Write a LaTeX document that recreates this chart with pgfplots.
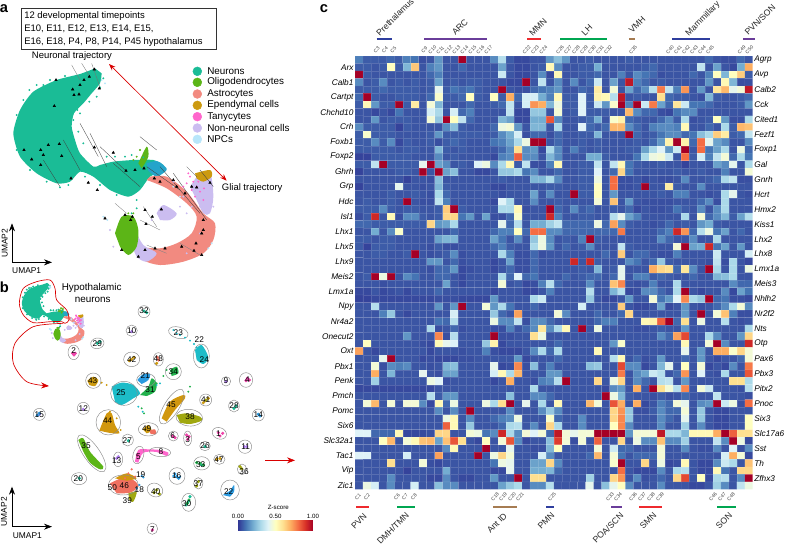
\documentclass[border=0pt]{standalone}
\usepackage{pgfplots}
\pgfplotsset{compat=1.18}
\usepackage{fontspec}
\setmainfont{Liberation Sans}
\usetikzlibrary{arrows.meta}
\definecolor{cNeu}{HTML}{1ABC96}
\definecolor{cOli}{HTML}{5CB517}
\definecolor{cAst}{HTML}{F28A80}
\definecolor{cEpe}{HTML}{CC9A10}
\definecolor{cTan}{HTML}{FF66CC}
\definecolor{cNon}{HTML}{CBBDF0}
\definecolor{cNpc}{HTML}{B8E6FA}
\definecolor{cCya}{HTML}{1DBCC8}
\definecolor{cBlu}{HTML}{2A9AE0}
\definecolor{cGrn}{HTML}{22B14C}
\definecolor{cOlv}{HTML}{A0A810}
\definecolor{cSal}{HTML}{F07060}
\definecolor{cPnk}{HTML}{EE44AA}
\definecolor{cVio}{HTML}{B080EE}
\definecolor{barNavy}{HTML}{2F3E9E}
\definecolor{barPurp}{HTML}{6A3D9A}
\definecolor{barRed}{HTML}{EE2A2E}
\definecolor{barGrn}{HTML}{00A651}
\definecolor{barBrn}{HTML}{A67C52}
\pgfplotsset{
  page/.style={at={(0,0)}, anchor=south west, width=589.5pt, height=408pt,
    scale only axis, hide axis, y dir=reverse, clip=false},
  rdyl/.style={colormap={rdylbu}{rgb255(0)=(49,54,149) rgb255(1)=(69,117,180)
    rgb255(2)=(116,173,209) rgb255(3)=(171,217,233) rgb255(4)=(224,243,248)
    rgb255(5)=(255,255,191) rgb255(6)=(254,224,144) rgb255(7)=(253,174,97)
    rgb255(8)=(244,109,67) rgb255(9)=(215,48,39) rgb255(10)=(165,0,38)}},
  txt/.style={only marks, mark size=0pt, nodes near coords, point meta=explicit symbolic,
    nodes near coords style={anchor=center, inner sep=0pt, #1}},
}
\tikzset{ctr/.style={draw=black!45, line width=0.35pt}}
\newcommand\cl[5]{\draw[ctr, rotate around={#5:(axis cs:#1,#2)}] (axis cs:#1,#2) ellipse [x radius=#3*0.25pt, y radius=#4*0.25pt];}
% clouds of panel a, also drawn small in panel b
\newcommand\clouds{
  \addplot[fill=cNeu, draw=none, smooth, tension=0.4] coordinates {(285,205)(240,222)(170,240)(100,275)(60,330)(40,400)(60,470)(110,520)(170,550)(210,545)(240,515)(280,530)(330,570)(385,590)(420,570)(450,530)(490,510)(490,495)(460,480)(400,480)(340,485)(300,495)(280,500)(240,460)(225,420)(215,380)(222,340)(250,310)(275,280)(300,250)(305,220)} --cycle;
  \addplot[fill=cBlu!70!cNeu, draw=none, smooth] coordinates {(440,490)(470,483)(490,495)(500,510)(470,530)(445,512)} --cycle;
  \addplot[fill=cAst, draw=none, smooth] coordinates {(450,530)(500,530)(560,575)(610,640)(645,670)(640,720)(610,760)(550,785)(480,795)(430,780)(420,745)(480,745)(530,730)(575,700)(590,650)(560,610)(500,565)(440,540)} --cycle;
  \addplot[fill=cNon, draw=none, smooth] coordinates {(590,530)(630,520)(640,590)(630,640)(610,640)(590,600)(570,560)} --cycle;
  \addplot[fill=cNon, draw=none, smooth] coordinates {(470,640)(490,615)(530,640)(510,660)(480,660)} --cycle;
  \addplot[fill=cNon, draw=none, smooth] coordinates {(405,690)(430,735)(470,760)(440,785)(410,770)(395,730)} --cycle;
  \addplot[fill=cOli, draw=none, smooth] coordinates {(345,700)(365,650)(400,650)(415,690)(410,740)(385,765)(360,740)} --cycle;
  \addplot[fill=cOli, draw=none, smooth] coordinates {(415,490)(440,440)(445,470)(425,505)} --cycle;
  \addplot[fill=cEpe, draw=none, smooth] coordinates {(585,520)(630,510)(635,530)(610,545)(590,535)} --cycle;
  \addplot[only marks, mark size=0.5pt, cTan] coordinates {(570,530)(580,545)(590,560)(575,570)(600,575)(560,550)(612,565)(595,545)(585,590)(565,520)(550,560)(610,600)};
  \addplot[only marks, mark size=0.5pt, cNeu] coordinates {(310,235)(300,262)(290,290)(268,305)(240,340)(395,465)(430,472)(410,625)(395,640)(110,255)(88,270)(205,555)(180,562)(410,600)(130,255)(150,240)(195,228)(70,300)(50,345)(232,330)(220,360)(235,395)(250,430)(320,470)(375,470)(345,470)(350,585)(300,555)(255,530)(140,545)(90,510)(50,450)};
  \addplot[only marks, mark size=0.5pt, cNpc] coordinates {(625,745)(635,730)(310,650)(322,660)(540,590)(520,560)(305,240)(315,250)};
  \addplot[only marks, mark size=0.5pt, cNon] coordinates {(560,640)(600,620)(455,660)(540,620)(640,620)(330,690)(340,740)(520,545)(550,590)(575,620)(600,700)(560,760)};
  \addplot[only marks, mark size=0.5pt, cOli] coordinates {(400,640)(385,640)(410,470)(400,480)(420,450)};
}
\begin{document}
\begin{tikzpicture}
\useasboundingbox (0,0) rectangle (589.5pt,408pt);
% panel a, in units of a third of a pixel
\begin{axis}[page, xmin=0, xmax=2358, ymin=0, ymax=1632]
\clouds
% velocity streaks
\addplot[black!55, line width=0.25pt] coordinates {(215,195)(240,240)};
\addplot[black!55, line width=0.25pt] coordinates {(245,190)(270,230)};
\addplot[black!55, line width=0.25pt] coordinates {(275,190)(300,262)};
\addplot[black!75, line width=0.25pt] coordinates {(240,370)(295,470)};
\addplot[black!75, line width=0.25pt] coordinates {(190,420)(240,510)};
\addplot[black!75, line width=0.25pt] coordinates {(270,400)(320,500)};
\addplot[black!75, line width=0.25pt] coordinates {(300,440)(380,515)};
\addplot[black!75, line width=0.25pt] coordinates {(340,490)(420,560)};
\addplot[black!75, line width=0.25pt] coordinates {(130,480)(180,560)};
\addplot[black!75, line width=0.25pt] coordinates {(420,410)(470,450)};
\addplot[black!75, line width=0.25pt] coordinates {(440,500)(540,570)};
\addplot[black!75, line width=0.25pt] coordinates {(480,500)(600,640)};
\addplot[black!75, line width=0.25pt] coordinates {(520,520)(620,660)};
\addplot[black!75, line width=0.25pt] coordinates {(560,500)(590,530)};
\addplot[black!75, line width=0.25pt] coordinates {(600,510)(640,560)};
\addplot[black!50, line width=0.25pt] coordinates {(345,610)(380,640)};
\addplot[black!50, line width=0.25pt] coordinates {(420,660)(480,690)};
\addplot[black!50, line width=0.25pt] coordinates {(430,620)(470,680)};
\addplot[black!50, line width=0.25pt] coordinates {(440,735)(500,760)};
\addplot[black!50, line width=0.25pt] coordinates {(540,730)(600,765)};
\addplot[only marks, mark=triangle*, mark size=1pt, black] coordinates {
 (283,208)(268,230)(252,240)(240,255)(218,268)(237,283)(222,285)(168,240)(163,318)(298,265)
 (72,450)(95,478)(122,495)(130,465)(122,450)(145,435)(178,432)(185,468)(213,535)(265,548)(292,570)
 (283,442)(340,458)(378,512)(405,510)(432,505)(463,535)(520,540)(480,545)
 (630,548)(590,562)(575,560)(530,560)(555,580)(610,660)(605,700)(610,690)(588,730)(582,752)(605,765)(545,740)
 (495,745)(465,745)(435,750)(415,770)(365,750)(397,650)(392,660)(315,655)(375,645)(435,630)(457,650)(484,628)(438,672)};
% legend dots
\addplot[only marks, mark=*, mark size=3.3pt, cNeu] coordinates {(592,214)};
\addplot[only marks, mark=*, mark size=3.3pt, cOli] coordinates {(592,247)};
\addplot[only marks, mark=*, mark size=3.3pt, cAst] coordinates {(592,282)};
\addplot[only marks, mark=*, mark size=3.3pt, cEpe] coordinates {(592,316)};
\addplot[only marks, mark=*, mark size=3.3pt, cTan] coordinates {(592,350)};
\addplot[only marks, mark=*, mark size=3.3pt, cNon] coordinates {(592,384)};
\addplot[only marks, mark=*, mark size=3.3pt, cNpc] coordinates {(592,418)};
\node[anchor=west, inner sep=0pt, font=\fontsize{7.4}{8}\selectfont] at (axis cs:621,214) {Neurons};
\node[anchor=west, inner sep=0pt, font=\fontsize{7.4}{8}\selectfont] at (axis cs:621,247) {Oligodendrocytes};
\node[anchor=west, inner sep=0pt, font=\fontsize{7.4}{8}\selectfont] at (axis cs:621,282) {Astrocytes};
\node[anchor=west, inner sep=0pt, font=\fontsize{7.4}{8}\selectfont] at (axis cs:621,316) {Ependymal cells};
\node[anchor=west, inner sep=0pt, font=\fontsize{7.4}{8}\selectfont] at (axis cs:621,350) {Tanycytes};
\node[anchor=west, inner sep=0pt, font=\fontsize{7.4}{8}\selectfont] at (axis cs:621,384) {Non-neuronal cells};
\node[anchor=west, inner sep=0pt, font=\fontsize{7.4}{8}\selectfont] at (axis cs:621,418) {NPCs};
% text box and trajectories
\draw[black!80, line width=0.5pt] (axis cs:65,26) rectangle (axis cs:650,148);
\node[anchor=west, inner sep=0pt, font=\fontsize{7.1}{8}\selectfont] at (axis cs:72,47) {12 developmental timepoints};
\node[anchor=west, inner sep=0pt, font=\fontsize{7.1}{8}\selectfont] at (axis cs:72,87) {E10, E11, E12, E13, E14, E15,};
\node[anchor=west, inner sep=0pt, font=\fontsize{7.1}{8}\selectfont] at (axis cs:72,126) {E16, E18, P4, P8, P14, P45 hypothalamus};
\node[anchor=west, inner sep=0pt, font=\fontsize{7.1}{8}\selectfont] at (axis cs:95,168) {Neuronal trajectory};
\node[anchor=west, inner sep=0pt, font=\fontsize{7.1}{8}\selectfont] at (axis cs:665,563) {Glial trajectory};
\draw[{Stealth[length=5pt]}-{Stealth[length=5pt]}, red!85!black, line width=0.5pt] (axis cs:327,192) -- (axis cs:680,542);
\draw[-{Stealth[length=6pt]}, line width=0.5pt] (axis cs:36,787) -- (axis cs:36,670);
\draw[-{Stealth[length=6pt]}, line width=0.5pt] (axis cs:36,787) -- (axis cs:156,787);
\node[rotate=90, inner sep=0pt, font=\fontsize{6.3}{7}\selectfont] at (axis cs:14,730) {UMAP2};
\node[inner sep=0pt, font=\fontsize{6.3}{7}\selectfont] at (axis cs:80,811) {UMAP1};
\node[inner sep=0pt, font=\bfseries\fontsize{11}{12}\selectfont] at (axis cs:12,27) {a};
\end{axis}
% small copy of the clouds in panel b
\begin{axis}[page, xmin=-171, xmax=7435, ymin=-2532, ymax=2732]
\clouds
\end{axis}
% panel b, same units, y counted from pixel row 270
\begin{axis}[page, xmin=0, xmax=2358, ymin=-810, ymax=822]
\draw[red!85!black, line width=0.5pt] plot[smooth cycle] coordinates {(axis cs:58,100)(axis cs:70,55)(axis cs:110,35)(axis cs:150,30)(axis cs:165,55)(axis cs:170,90)(axis cs:200,120)(axis cs:207,150)(axis cs:195,160)(axis cs:185,155)(axis cs:150,155)(axis cs:100,158)(axis cs:70,135)};
\draw[red!85!black, line width=0.5pt, -{Stealth[length=6pt]}] plot[smooth] coordinates {(axis cs:190,160)(axis cs:100,170)(axis cs:45,220)(axis cs:40,280)(axis cs:80,335)(axis cs:147,348)};
\draw[red!85!black, line width=0.5pt, -{Stealth[length=6pt]}] (axis cs:795,571) -- (axis cs:885,571);
\node[inner sep=0pt, font=\fontsize{7.4}{8}\selectfont] at (axis cs:275,53) {Hypothalamic};
\node[inner sep=0pt, font=\fontsize{7.4}{8}\selectfont] at (axis cs:278,90) {neurons};
\node[inner sep=0pt, font=\bfseries\fontsize{11}{12}\selectfont] at (axis cs:13,52) {b};
\draw[-{Stealth[length=6pt]}, line width=0.5pt] (axis cs:36,770) -- (axis cs:36,650);
\draw[-{Stealth[length=6pt]}, line width=0.5pt] (axis cs:36,770) -- (axis cs:156,770);
\node[rotate=90, inner sep=0pt, font=\fontsize{6.3}{7}\selectfont] at (axis cs:12,725) {UMAP2};
\node[inner sep=0pt, font=\fontsize{6.3}{7}\selectfont] at (axis cs:82,796) {UMAP1};
\node[inner sep=0pt, font=\fontsize{4.6}{5}\selectfont] at (axis cs:835,711) {Z-score};
% large clusters
\addplot[fill=cCya, draw=none, smooth] coordinates {(335,350)(365,338)(400,345)(420,370)(400,385)(365,405)(345,395)} --cycle;
\addplot[fill=cBlu, draw=none, smooth] coordinates {(412,330)(430,312)(450,312)(445,330)(425,342)} --cycle;
\addplot[fill=cGrn, draw=none, smooth] coordinates {(420,375)(445,350)(455,325)(470,340)(465,365)(440,378)} --cycle;
\addplot[fill=cEpe!90!orange, draw=none, smooth] coordinates {(485,445)(510,395)(550,375)(555,385)(525,420)(500,455)} --cycle;
\addplot[fill=cOlv, draw=none, smooth] coordinates {(530,435)(560,430)(600,440)(605,452)(570,462)(540,458)} --cycle;
\addplot[fill=cEpe!90!orange, draw=none, smooth] coordinates {(298,482)(320,430)(335,430)(345,465)(358,490)(325,488)} --cycle;
\addplot[fill=cOli, draw=none, smooth] coordinates {(235,510)(250,505)(270,545)(310,590)(300,598)(270,578)(250,545)} --cycle;
\addplot[fill=cSal, draw=none, smooth] coordinates {(330,640)(365,625)(400,630)(415,650)(390,668)(350,670)} --cycle;
\addplot[fill=cOlv, draw=none, smooth] coordinates {(385,670)(410,665)(400,695)(388,690)} --cycle;
\addplot[fill=cEpe!90!orange, draw=none, smooth] coordinates {(345,625)(380,610)(410,625)(380,632)} --cycle;
\addplot[fill=cCya, draw=none, smooth] coordinates {(585,240)(605,225)(625,262)(610,282)(590,270)} --cycle;
\addplot[fill=cEpe, draw=none, smooth] coordinates {(262,332)(280,320)(295,330)(285,348)(268,345)} --cycle;
\addplot[fill=cGrn, draw=none, smooth] coordinates {(510,300)(530,290)(535,310)(515,318)} --cycle;
\addplot[fill=cEpe, draw=none, smooth] coordinates {(428,478)(445,465)(455,482)(440,490)} --cycle;
\addplot[fill=cSal, draw=none, smooth] coordinates {(448,482)(465,478)(468,492)(452,492)} --cycle;
\addplot[fill=cTan, draw=none, smooth] coordinates {(405,575)(415,540)(445,538)(480,540)(505,548)(500,558)(470,546)(430,548)(415,578)} --cycle;
\addplot[fill=cBlu, draw=none, smooth] coordinates {(668,675)(690,662)(702,645)(702,665)(690,680)} --cycle;
\addplot[only marks, mark size=0.5pt, cCya] coordinates {(540,195)(555,203)(570,212)(582,222)(590,232)(520,180)(530,190)(470,345)(480,340)(415,410)(428,425)};
\addplot[only marks, mark size=0.5pt, cGrn] coordinates {(470,340)(490,318)(500,300)(432,430)(425,415)(570,350)(565,365)};
\addplot[only marks, mark size=0.5pt, cEpe] coordinates {(305,338)(320,345)(330,425)(350,445)(362,480)};
\addplot[only marks, mark size=0.6pt, cSal] coordinates {(395,598)(385,610)(375,625)(405,620)};
\addplot[only marks, mark size=0.6pt, cBlu] coordinates {(425,618)(430,622)(410,655)(418,645)(520,618)(540,620)};
% small clusters by colour
\addplot[only marks, mark size=1pt, cNeu] coordinates {(432,123)(440,128)(292,220)(300,215)(702,415)(708,408)(385,512)(615,530)(605,585)(565,695)(558,705)(238,625)(570,680)};
\addplot[only marks, mark size=1pt, cGrn] coordinates {(600,580)(610,585)(590,578)(562,700)(567,690)(520,298)};
\addplot[only marks, mark size=1pt, cVio] coordinates {(395,185)(678,335)(250,418)(118,433)(355,560)(350,565)(740,530)(733,530)};
\addplot[only marks, mark size=1pt, cPnk] coordinates {(222,255)(218,250)(226,250)(742,325)(738,332)(748,330)(655,488)(668,490)(660,498)(518,498)(525,503)(563,508)(567,500)(560,495)(457,780)(412,555)};
\addplot[only marks, mark size=1pt, cEpe] coordinates {(395,268)(402,262)(388,272)(617,392)(610,398)(625,385)(660,565)(650,568)(470,280)};
\addplot[only marks, mark size=1pt, cSal] coordinates {(476,270)(472,262)};
\addplot[only marks, mark size=1pt, cBlu] coordinates {(118,430)(112,436)(775,433)(780,438)(530,620)(525,612)(536,625)};
\addplot[only marks, mark size=1pt, cOlv] coordinates {(725,596)(720,590)(595,635)(590,648)(462,668)(470,660)(478,672)(618,390)};
% cluster numbers
\addplot[txt={font=\fontsize{6.2}{7}\selectfont}] table[meta=l] {
x y l
432 123 32
395 182 10
535 188 23
598 210 22
613 268 24
292 220 29
221 243 2
395 268 42
475 265 48
520 305 34
278 332 43
436 318 21
450 358 31
363 368 25
678 333 9
742 328 4
513 403 45
617 390 41
702 408 28
250 415 12
118 433 15
775 435 14
570 441 38
323 453 44
440 477 49
655 490 1
518 498 6
563 508 3
737 530 11
615 528 26
382 513 27
258 527 35
483 546 8
415 560 5
350 572 13
657 570 47
602 583 33
732 604 36
530 618 16
422 615 19
595 642 37
235 627 20
686 665 22
560 700 30
467 665 40
418 660 18
382 692 39
373 647 46
337 652 50
457 778 7
};
% contours
\cl{432}{125}{18}{18}{0}
\cl{395}{182}{17}{17}{0}
\cl{535}{188}{30}{17}{-15}
\cl{604}{258}{24}{36}{0}
\cl{292}{220}{20}{16}{10}
\cl{221}{247}{17}{22}{0}
\cl{395}{268}{24}{22}{0}
\cl{475}{268}{15}{20}{0}
\cl{520}{305}{24}{24}{0}
\cl{280}{332}{23}{23}{0}
\cl{678}{334}{14}{14}{0}
\cl{738}{330}{20}{22}{0}
\cl{372}{370}{40}{36}{0}
\cl{438}{330}{28}{20}{0}
\cl{515}{410}{60}{22}{58}
\cl{617}{390}{18}{18}{0}
\cl{702}{408}{16}{18}{0}
\cl{250}{415}{18}{18}{0}
\cl{118}{433}{18}{18}{0}
\cl{775}{435}{18}{18}{0}
\cl{568}{443}{40}{25}{-5}
\cl{325}{457}{37}{38}{0}
\cl{445}{478}{30}{20}{0}
\cl{658}{490}{22}{17}{-20}
\cl{520}{498}{15}{15}{0}
\cl{563}{505}{12}{22}{0}
\cl{735}{530}{20}{20}{0}
\cl{615}{528}{16}{14}{0}
\cl{383}{510}{17}{18}{0}
\cl{275}{550}{66}{24}{-55}
\cl{480}{546}{32}{14}{-5}
\cl{415}{555}{16}{27}{-15}
\cl{354}{568}{14}{22}{0}
\cl{658}{568}{17}{15}{0}
\cl{605}{580}{24}{20}{0}
\cl{726}{598}{14}{16}{0}
\cl{531}{618}{24}{25}{0}
\cl{595}{640}{14}{17}{0}
\cl{237}{626}{23}{18}{0}
\cl{690}{660}{28}{30}{0}
\cl{566}{697}{21}{27}{0}
\cl{465}{660}{24}{20}{-25}
\cl{370}{645}{45}{30}{0}
\cl{457}{776}{16}{17}{0}
\end{axis}
% labels of panel c, in pixels
\begin{axis}[page, xmin=0, xmax=786, ymin=0, ymax=544]
\node[inner sep=0pt, font=\bfseries\fontsize{11}{12}\selectfont] at (axis cs:324,9) {c};
\addplot[txt={rotate=45, text=black!75, font=\fontsize{3.7}{4}\selectfont}] table[meta=l] {
x y l
376.7 50 C3
385 50 C4
393.3 50 C5
424.3 50 C9
432.3 50 C10
440.3 50 C11
448.3 50 C12
456.3 50 C13
464.3 50 C14
472.3 50 C15
480.3 50 C16
488.3 50 C17
526.7 50 C22
535 50 C23
543.3 50 C24
560 50 C26
568 50 C27
576 50 C28
584 50 C29
592 50 C30
600 50 C31
608 50 C32
633 50 C35
670 50 C40
678 50 C41
686 50 C42
694 50 C43
702 50 C44
710 50 C45
741.7 50 C49
749.3 50 C50
358 497 C1
367 497 C2
397 497 C6
405 497 C7
414 497 C8
495 497 C18
503 497 C19
512 497 C20
520 497 C21
552 497 C25
610 497 C33
618 497 C34
633 497 C36
642 497 C37
651 497 C38
660 497 C39
713 497 C46
722 497 C47
731 497 C48
};
\addplot[txt={rotate=45, text=black!85, font=\fontsize{6.5}{7}\selectfont}] table[meta=l] {
x y l
395 17 Prethalamus
460 27 ARC
538 27 MMN
587 30 LH
637 25 VMH
703 19 Mammillary
760 20 PVN/SON
359 521 PVN
393 528 DMH/TMN
497 523 {Ant ID}
546 521 PMN
608 528 POA/SCN
648 521 SMN
724 521 SON
};
\addplot[barNavy, line width=1.6pt] coordinates {(376.7,39)(392.3,39)};
\addplot[barPurp, line width=1.6pt] coordinates {(424,39)(487,39)};
\addplot[barRed, line width=1.6pt] coordinates {(527,39)(541,39)};
\addplot[barGrn, line width=1.6pt] coordinates {(560,39)(607,39)};
\addplot[barBrn, line width=1.6pt] coordinates {(629,39)(635,39)};
\addplot[barNavy, line width=1.6pt] coordinates {(672,39)(710,39)};
\addplot[barPurp, line width=1.6pt] coordinates {(743,39)(755,39)};
\addplot[barRed, line width=1.6pt] coordinates {(356,507)(369,507)};
\addplot[barGrn, line width=1.6pt] coordinates {(397,507)(415,507)};
\addplot[barBrn, line width=1.6pt] coordinates {(493,507)(517,507)};
\addplot[barNavy, line width=1.6pt] coordinates {(546,507)(554,507)};
\addplot[barPurp, line width=1.6pt] coordinates {(611,507)(622,507)};
\addplot[barRed, line width=1.6pt] coordinates {(639,507)(662,507)};
\addplot[barGrn, line width=1.6pt] coordinates {(717,507)(736,507)};
\end{axis}
% heatmap
\begin{axis}[at={(266.25pt,41.0pt)}, anchor=south west, width=298.3pt, height=325pt, scale only axis,
  rdyl, y dir=reverse, xmin=-0.5, xmax=49.5, ymin=-0.5, ymax=57.5,
  point meta min=0, point meta max=100, axis line style={draw=none}, tick style={draw=none},
  xtick=\empty,
  ytick={1,3,5,7,9,11,13,15,17,19,21,23,25,27,29,31,33,35,37,39,41,43,45,47,49,51,53,55,57},
  yticklabels={Arx,Calb1,Cartpt,Chchd10,Crh,Foxb1,Foxp2,Ghrh,Grp,Hdc,Isl1,Lhx1,Lhx5,Lhx9,Meis2,Lmx1a,Npy,Nr4a2,Onecut2,Oxt,Pbx1,Penk,Pmch,Pomc,Six6,Slc32a1,Tac1,Vip,Zic1},
  yticklabel style={font=\itshape\fontsize{6.2}{7}\selectfont, inner sep=0pt, xshift=-1pt},
  colorbar horizontal,
  colorbar style={at={(-0.2,-0.083)}, anchor=center, width=56.25pt, height=7.5pt,
    axis line style={draw=none}, xticklabel pos=upper, xtick={0,50,100}, xticklabels={0.00,0.50,1.00},
    xticklabel style={font=\fontsize{4.6}{5}\selectfont, inner sep=1pt}, tick style={draw=none},
    /pgf/number format/assume math mode=true},
]
\addplot[matrix plot, mesh/cols=50, point meta=explicit, draw=white, draw opacity=0.15, line width=0.2pt]
 table[row sep=\\, header=false, x expr={mod(\coordindex,50)}, y expr={floor((\coordindex+0.5)/50)}, meta index=0] {
12\\6\\6\\6\\8\\6\\12\\10\\4\\5\\16\\5\\5\\100\\5\\5\\5\\14\\32\\6\\3\\3\\5\\5\\16\\24\\16\\5\\5\\6\\5\\5\\5\\5\\6\\5\\5\\5\\5\\5\\5\\5\\5\\5\\8\\5\\4\\4\\8\\5\\
6\\6\\5\\6\\50\\6\\22\\65\\5\\12\\16\\5\\5\\8\\5\\5\\5\\5\\18\\5\\3\\3\\5\\6\\52\\14\\5\\5\\6\\6\\20\\5\\5\\5\\5\\5\\6\\8\\5\\5\\5\\5\\5\\34\\5\\18\\5\\3\\20\\70\\
100\\6\\5\\5\\5\\5\\5\\5\\5\\8\\12\\5\\5\\5\\5\\5\\5\\5\\36\\5\\3\\3\\5\\14\\3\\52\\5\\5\\6\\6\\8\\5\\5\\12\\5\\14\\10\\8\\4\\5\\5\\5\\8\\5\\12\\50\\22\\50\\64\\6\\
14\\5\\6\\14\\5\\6\\5\\6\\5\\6\\18\\5\\6\\5\\6\\6\\5\\5\\5\\3\\3\\100\\5\\34\\5\\14\\5\\14\\5\\8\\36\\5\\18\\5\\95\\12\\8\\5\\6\\5\\5\\5\\5\\5\\16\\5\\52\\22\\4\\4\\
6\\6\\6\\8\\6\\6\\6\\6\\5\\6\\42\\6\\10\\8\\10\\6\\5\\5\\100\\5\\4\\4\\8\\10\\12\\16\\5\\5\\8\\6\\56\\5\\46\\5\\18\\8\\14\\32\\78\\34\\12\\74\\5\\16\\5\\58\\68\\42\\46\\95\\
8\\100\\6\\5\\5\\6\\6\\6\\5\\8\\48\\6\\6\\8\\50\\6\\5\\50\\6\\70\\8\\38\\38\\20\\12\\52\\6\\6\\40\\6\\54\\52\\32\\95\\5\\6\\5\\5\\60\\8\\6\\6\\5\\4\\22\\6\\5\\5\\6\\8\\
6\\52\\16\\6\\6\\100\\6\\56\\5\\46\\22\\5\\5\\5\\8\\5\\5\\6\\8\\34\\5\\38\\74\\70\\22\\44\\6\\6\\40\\6\\36\\16\\48\\100\\12\\100\\36\\78\\18\\8\\58\\36\\10\\10\\8\\5\\5\\5\\6\\16\\
5\\5\\3\\5\\3\\10\\5\\5\\5\\38\\30\\5\\38\\8\\12\\5\\5\\5\\5\\34\\3\\3\\26\\26\\5\\46\\5\\6\\40\\6\\6\\6\\5\\5\\68\\14\\8\\8\\4\\3\\10\\14\\14\\5\\5\\5\\5\\5\\5\\5\\
5\\5\\16\\5\\6\\6\\6\\5\\5\\46\\26\\100\\50\\34\\8\\5\\5\\5\\22\\18\\3\\3\\20\\20\\84\\14\\5\\5\\6\\8\\20\\5\\48\\54\\8\\6\\5\\5\\8\\14\\6\\30\\4\\5\\6\\50\\16\\4\\4\\30\\
14\\6\\6\\6\\6\\2\\6\\5\\5\\5\\5\\14\\24\\6\\5\\5\\5\\8\\44\\46\\16\\5\\22\\22\\5\\30\\5\\5\\40\\8\\6\\8\\68\\68\\14\\8\\5\\12\\14\\14\\12\\52\\5\\5\\8\\5\\30\\6\\68\\66\\
6\\48\\6\\6\\6\\5\\5\\5\\5\\6\\16\\6\\6\\6\\6\\6\\5\\6\\14\\20\\38\\4\\8\\8\\4\\8\\5\\5\\6\\6\\22\\5\\5\\5\\100\\8\\5\\6\\10\\14\\14\\8\\10\\24\\30\\64\\56\\6\\8\\34\\
6\\6\\14\\6\\14\\3\\6\\5\\5\\6\\4\\6\\8\\6\\5\\5\\5\\10\\12\\18\\30\\44\\100\\100\\5\\8\\5\\5\\6\\5\\6\\5\\5\\5\\5\\6\\5\\8\\16\\54\\100\\54\\8\\80\\42\\18\\14\\5\\5\\14\\
6\\6\\6\\6\\6\\5\\6\\6\\5\\5\\22\\6\\5\\6\\5\\5\\5\\5\\8\\14\\60\\14\\16\\3\\30\\14\\5\\12\\6\\5\\6\\5\\5\\5\\6\\6\\18\\30\\40\\16\\36\\100\\5\\80\\10\\18\\30\\5\\44\\8\\
2\\2\\6\\6\\6\\6\\6\\5\\5\\5\\14\\5\\6\\5\\5\\5\\5\\3\\12\\14\\82\\14\\14\\5\\22\\14\\5\\5\\5\\20\\20\\6\\5\\5\\5\\10\\30\\44\\46\\36\\5\\80\\6\\38\\12\\34\\46\\8\\30\\10\\
6\\6\\34\\100\\6\\6\\6\\6\\42\\100\\18\\14\\5\\6\\5\\40\\44\\14\\30\\52\\6\\34\\4\\4\\12\\52\\5\\5\\6\\6\\34\\5\\34\\52\\10\\6\\5\\5\\6\\5\\5\\2\\5\\5\\5\\18\\14\\42\\5\\30\\
2\\5\\5\\5\\5\\6\\6\\5\\100\\5\\100\\18\\24\\5\\5\\3\\3\\5\\26\\26\\30\\10\\14\\5\\5\\8\\5\\5\\6\\6\\40\\5\\8\\62\\10\\5\\5\\5\\5\\5\\6\\5\\5\\6\\5\\5\\12\\5\\5\\46\\
5\\5\\5\\5\\5\\5\\2\\5\\5\\4\\24\\5\\5\\5\\5\\5\\5\\5\\6\\5\\5\\5\\22\\22\\30\\14\\5\\5\\6\\6\\44\\5\\80\\4\\4\\5\\3\\5\\4\\4\\5\\14\\5\\5\\6\\8\\30\\34\\4\\4\\
2\\5\\5\\5\\5\\42\\5\\5\\4\\5\\22\\6\\5\\5\\5\\5\\5\\3\\3\\5\\5\\5\\5\\5\\6\\6\\5\\5\\6\\6\\50\\5\\80\\4\\4\\5\\100\\5\\5\\56\\6\\5\\5\\14\\5\\5\\5\\5\\5\\5\\
5\\5\\5\\5\\6\\5\\5\\6\\5\\4\\30\\8\\5\\5\\5\\5\\5\\5\\4\\5\\5\\5\\18\\5\\14\\5\\5\\100\\6\\6\\50\\5\\16\\5\\5\\5\\5\\5\\6\\5\\12\\12\\5\\5\\4\\5\\30\\42\\5\\4\\
5\\6\\5\\5\\6\\5\\100\\5\\4\\4\\34\\12\\5\\5\\5\\5\\5\\3\\40\\30\\5\\5\\14\\5\\5\\6\\5\\5\\5\\5\\46\\5\\66\\5\\16\\5\\4\\4\\4\\4\\5\\5\\5\\8\\14\\4\\30\\5\\5\\5\\
6\\6\\6\\14\\6\\5\\6\\6\\5\\5\\6\\64\\100\\6\\5\\5\\5\\5\\30\\30\\52\\4\\5\\5\\100\\8\\5\\14\\6\\8\\5\\5\\6\\5\\8\\3\\5\\4\\4\\5\\10\\6\\5\\14\\5\\14\\30\\5\\5\\5\\
4\\6\\92\\5\\52\\4\\14\\14\\6\\5\\6\\62\\62\\10\\16\\5\\18\\4\\4\\8\\48\\5\\5\\5\\92\\12\\5\\5\\6\\6\\5\\5\\32\\42\\18\\12\\5\\5\\5\\5\\5\\30\\5\\46\\8\\14\\22\\6\\18\\32\\
8\\8\\6\\6\\6\\6\\6\\6\\6\\62\\16\\18\\30\\5\\5\\5\\5\\5\\42\\8\\32\\5\\20\\20\\28\\34\\8\\8\\8\\8\\44\\8\\72\\14\\6\\5\\5\\4\\5\\8\\5\\6\\5\\16\\20\\6\\5\\5\\5\\5\\
5\\5\\20\\5\\14\\48\\5\\5\\5\\5\\5\\5\\8\\5\\5\\5\\5\\8\\12\\12\\50\\8\\80\\80\\14\\14\\8\\8\\8\\8\\8\\8\\8\\78\\5\\5\\5\\5\\8\\12\\92\\74\\8\\32\\44\\10\\18\\5\\8\\5\\
6\\6\\5\\6\\6\\5\\5\\5\\5\\5\\18\\22\\22\\5\\5\\5\\5\\18\\10\\5\\14\\5\\26\\44\\14\\5\\6\\5\\12\\100\\6\\5\\5\\5\\5\\5\\5\\5\\14\\8\\5\\5\\14\\5\\5\\30\\5\\5\\5\\5\\
6\\2\\6\\6\\6\\5\\5\\5\\5\\4\\6\\4\\4\\5\\5\\5\\5\\8\\12\\6\\5\\5\\30\\44\\16\\5\\8\\5\\6\\14\\5\\5\\5\\34\\6\\5\\5\\5\\5\\5\\46\\100\\18\\20\\92\\10\\18\\5\\16\\5\\
5\\5\\6\\6\\5\\5\\6\\100\\5\\4\\5\\6\\14\\4\\5\\5\\5\\5\\30\\12\\4\\4\\8\\4\\5\\5\\5\\5\\5\\5\\5\\8\\5\\64\\5\\8\\8\\5\\4\\4\\12\\5\\5\\5\\5\\36\\5\\5\\5\\38\\
5\\5\\5\\5\\5\\5\\5\\5\\5\\16\\16\\5\\8\\4\\5\\5\\5\\3\\5\\18\\4\\4\\8\\5\\5\\5\\5\\92\\5\\92\\6\\5\\5\\5\\14\\10\\5\\8\\26\\6\\5\\5\\5\\5\\4\\34\\4\\30\\5\\3\\
5\\5\\5\\5\\5\\5\\5\\5\\5\\4\\8\\8\\16\\3\\4\\5\\5\\3\\5\\8\\4\\4\\8\\5\\5\\5\\5\\5\\6\\5\\22\\5\\6\\42\\5\\5\\5\\70\\62\\60\\8\\58\\14\\5\\100\\30\\5\\30\\5\\44\\
5\\6\\100\\44\\100\\5\\14\\10\\5\\5\\8\\8\\5\\3\\5\\5\\5\\5\\30\\8\\40\\8\\10\\5\\5\\5\\8\\5\\6\\8\\8\\5\\8\\42\\5\\12\\12\\6\\8\\6\\5\\5\\8\\5\\5\\22\\24\\30\\5\\5\\
5\\5\\5\\4\\5\\5\\5\\5\\5\\5\\5\\18\\5\\3\\5\\5\\5\\5\\46\\5\\6\\3\\4\\12\\32\\8\\5\\5\\5\\14\\5\\5\\66\\76\\5\\4\\5\\12\\5\\5\\30\\5\\5\\5\\5\\5\\5\\14\\8\\8\\
3\\3\\5\\3\\4\\5\\3\\5\\5\\5\\8\\5\\5\\5\\5\\5\\5\\3\\5\\5\\5\\3\\3\\5\\12\\5\\5\\5\\5\\32\\5\\5\\22\\32\\3\\4\\14\\14\\8\\5\\30\\100\\5\\3\\5\\5\\14\\3\\18\\10\\
2\\2\\3\\3\\3\\3\\3\\3\\3\\3\\4\\4\\4\\3\\3\\3\\3\\16\\5\\5\\5\\5\\30\\36\\5\\5\\5\\5\\5\\26\\5\\3\\3\\5\\16\\5\\5\\46\\10\\16\\40\\76\\30\\26\\100\\8\\10\\4\\4\\3\\
5\\5\\32\\5\\5\\5\\5\\5\\5\\5\\16\\5\\16\\100\\5\\5\\46\\16\\30\\10\\5\\5\\8\\5\\5\\5\\5\\5\\38\\5\\5\\5\\5\\64\\5\\3\\3\\5\\18\\3\\5\\16\\5\\4\\5\\8\\14\\30\\46\\14\\
5\\5\\5\\12\\26\\5\\3\\5\\5\\5\\5\\5\\38\\5\\5\\5\\5\\26\\8\\5\\72\\5\\5\\5\\5\\46\\14\\5\\5\\5\\8\\5\\5\\8\\62\\5\\5\\5\\5\\5\\5\\16\\5\\100\\5\\46\\66\\12\\4\\4\\
5\\5\\5\\5\\5\\5\\5\\5\\5\\5\\10\\8\\32\\5\\5\\5\\5\\44\\14\\14\\34\\4\\14\\14\\8\\5\\5\\5\\5\\5\\8\\12\\12\\5\\5\\5\\52\\54\\82\\100\\8\\60\\5\\44\\5\\5\\32\\5\\4\\5\\
5\\5\\5\\5\\5\\5\\5\\5\\5\\30\\4\\5\\8\\4\\5\\5\\5\\4\\4\\12\\5\\8\\14\\58\\14\\30\\52\\5\\100\\5\\44\\5\\5\\5\\5\\4\\4\\5\\6\\5\\5\\16\\5\\5\\5\\5\\5\\5\\5\\30\\
5\\5\\5\\5\\5\\5\\16\\5\\5\\5\\76\\4\\32\\5\\5\\5\\5\\100\\4\\4\\5\\5\\60\\44\\5\\5\\5\\5\\5\\5\\5\\5\\5\\5\\5\\5\\5\\5\\14\\8\\72\\86\\5\\5\\30\\14\\5\\5\\16\\62\\
5\\50\\5\\5\\5\\5\\5\\5\\4\\3\\52\\42\\40\\5\\5\\5\\26\\54\\3\\5\\5\\5\\5\\5\\5\\8\\5\\5\\5\\5\\5\\5\\16\\48\\5\\5\\5\\5\\5\\5\\5\\52\\5\\5\\46\\100\\14\\5\\5\\92\\
72\\5\\3\\5\\5\\5\\5\\5\\5\\3\\5\\5\\5\\4\\5\\5\\12\\4\\3\\3\\3\\5\\14\\30\\8\\30\\5\\5\\5\\5\\52\\5\\5\\5\\5\\5\\5\\5\\5\\5\\5\\42\\5\\16\\5\\70\\70\\48\\62\\46\\
5\\5\\5\\42\\100\\5\\5\\5\\3\\4\\3\\3\\3\\4\\4\\5\\5\\5\\5\\5\\16\\3\\5\\5\\5\\8\\5\\5\\5\\5\\5\\5\\32\\52\\5\\8\\4\\5\\16\\5\\5\\8\\5\\16\\5\\3\\5\\5\\8\\46\\
5\\5\\46\\4\\14\\12\\14\\5\\5\\4\\5\\22\\24\\5\\5\\5\\5\\42\\3\\4\\76\\4\\24\\5\\12\\5\\5\\5\\5\\24\\26\\5\\5\\86\\14\\14\\3\\5\\22\\42\\5\\50\\5\\46\\3\\5\\3\\14\\5\\78\\
5\\5\\70\\5\\22\\5\\5\\5\\42\\5\\4\\18\\18\\5\\5\\5\\5\\38\\52\\30\\68\\5\\5\\5\\16\\16\\5\\5\\5\\5\\5\\5\\5\\78\\5\\14\\18\\36\\32\\5\\8\\74\\5\\40\\5\\4\\30\\5\\5\\84\\
5\\5\\28\\5\\5\\5\\5\\5\\5\\44\\40\\4\\5\\5\\5\\5\\5\\3\\5\\70\\5\\5\\4\\12\\14\\32\\100\\5\\5\\5\\62\\5\\44\\62\\5\\14\\8\\5\\32\\34\\5\\16\\5\\5\\5\\5\\5\\60\\60\\30\\
3\\3\\3\\3\\3\\3\\3\\3\\3\\3\\5\\5\\5\\5\\5\\5\\5\\5\\5\\5\\5\\5\\30\\5\\5\\5\\5\\5\\5\\5\\5\\3\\14\\16\\5\\70\\5\\100\\60\\46\\32\\76\\5\\46\\36\\5\\5\\5\\4\\32\\
5\\5\\5\\5\\5\\5\\5\\5\\5\\32\\6\\16\\16\\5\\5\\5\\5\\5\\5\\24\\5\\5\\14\\14\\8\\5\\5\\5\\5\\5\\5\\100\\44\\22\\6\\5\\5\\4\\6\\4\\5\\8\\5\\5\\5\\34\\5\\5\\5\\4\\
5\\46\\68\\5\\46\\5\\46\\46\\14\\3\\52\\8\\44\\5\\5\\5\\44\\30\\60\\100\\5\\42\\5\\30\\5\\52\\5\\5\\5\\68\\46\\5\\84\\70\\5\\70\\3\\5\\12\\8\\46\\42\\5\\14\\16\\100\\36\\44\\4\\80\\
5\\5\\5\\5\\5\\5\\5\\5\\5\\5\\14\\5\\14\\5\\100\\5\\5\\5\\5\\14\\5\\5\\5\\14\\26\\14\\5\\5\\5\\5\\5\\5\\62\\74\\26\\4\\4\\6\\14\\8\\8\\46\\5\\26\\5\\3\\3\\5\\5\\5\\
5\\5\\5\\5\\5\\5\\5\\5\\5\\5\\5\\44\\52\\5\\14\\5\\5\\8\\12\\14\\44\\5\\5\\5\\48\\8\\5\\5\\14\\5\\5\\5\\62\\76\\26\\5\\5\\5\\14\\8\\5\\42\\5\\26\\5\\3\\3\\5\\5\\50\\
5\\5\\5\\5\\5\\5\\5\\5\\5\\5\\5\\82\\52\\5\\26\\5\\5\\5\\8\\30\\32\\5\\14\\5\\62\\30\\5\\5\\14\\5\\5\\5\\50\\76\\14\\5\\5\\5\\14\\5\\5\\28\\5\\14\\5\\3\\3\\5\\5\\50\\
40\\40\\8\\8\\8\\52\\3\\3\\3\\4\\62\\62\\5\\5\\46\\44\\10\\14\\92\\30\\14\\46\\40\\46\\8\\95\\46\\42\\46\\46\\100\\100\\100\\100\\16\\46\\46\\46\\95\\30\\30\\22\\52\\52\\52\\70\\100\\82\\60\\60\\
5\\5\\5\\50\\68\\5\\46\\52\\66\\68\\18\\66\\84\\60\\5\\3\\50\\5\\46\\84\\14\\3\\5\\5\\24\\88\\46\\4\\46\\5\\82\\5\\5\\62\\5\\44\\14\\14\\66\\14\\14\\28\\5\\5\\5\\34\\14\\100\\44\\3\\
5\\5\\5\\5\\5\\5\\5\\5\\5\\5\\5\\14\\52\\5\\5\\5\\100\\5\\5\\42\\5\\5\\4\\4\\22\\50\\5\\5\\5\\5\\46\\5\\36\\8\\8\\5\\5\\5\\46\\5\\5\\14\\5\\4\\4\\14\\5\\40\\4\\14\\
40\\40\\5\\5\\5\\5\\38\\5\\5\\5\\72\\5\\5\\5\\5\\100\\5\\44\\62\\46\\5\\5\\5\\38\\14\\5\\5\\5\\5\\8\\68\\5\\46\\10\\5\\8\\8\\8\\46\\5\\5\\5\\5\\5\\5\\5\\38\\70\\46\\3\\
5\\5\\5\\5\\60\\5\\5\\5\\46\\4\\3\\5\\5\\5\\5\\5\\5\\10\\44\\42\\5\\5\\18\\18\\62\\14\\5\\5\\5\\5\\5\\5\\48\\100\\5\\5\\62\\5\\44\\3\\4\\52\\5\\3\\3\\14\\36\\30\\5\\66\\
5\\5\\5\\5\\5\\5\\2\\5\\5\\5\\5\\20\\5\\5\\5\\5\\5\\3\\3\\42\\5\\5\\20\\20\\22\\8\\5\\5\\5\\5\\5\\5\\5\\80\\5\\3\\3\\3\\14\\5\\30\\32\\5\\3\\3\\52\\10\\5\\62\\62\\
5\\5\\5\\5\\14\\5\\5\\5\\5\\3\\3\\14\\5\\3\\3\\5\\5\\16\\5\\5\\100\\5\\60\\60\\5\\5\\5\\5\\5\\28\\5\\5\\62\\74\\5\\14\\4\\5\\8\\5\\62\\86\\5\\50\\3\\30\\32\\5\\14\\100\\
5\\44\\38\\5\\14\\5\\5\\38\\5\\5\\24\\14\\14\\5\\5\\5\\5\\5\\18\\26\\30\\5\\14\\14\\32\\5\\5\\5\\5\\42\\5\\24\\42\\50\\14\\5\\5\\5\\14\\5\\5\\5\\3\\3\\5\\28\\14\\5\\34\\44\\
};
\end{axis}
% right hand gene names
\begin{axis}[at={(266.25pt,41.0pt)}, anchor=south west, width=298.3pt, height=325pt, scale only axis,
  y dir=reverse, xmin=-0.5, xmax=49.5, ymin=-0.5, ymax=57.5, axis line style={draw=none}, tick style={draw=none},
  xtick=\empty, ytick pos=right, yticklabel pos=right,
  ytick={0,2,4,6,8,10,12,14,16,18,20,22,24,26,28,30,32,34,36,38,40,42,44,46,48,50,52,54,56},
  yticklabels={Agrp,Avp,Calb2,Cck,Cited1,Fezf1,Foxp1,Gal,Gnrh,Hcrt,Hmx2,Kiss1,Lhx2,Lhx8,Lmx1a,Meis3,Nhlh2,Nr2f2,Nts,Otp,Pax6,Pbx3,Pitx2,Pnoc,Six3,Slc17a6,Sst,Th,Zfhx3},
  yticklabel style={font=\itshape\fontsize{6.2}{7}\selectfont, inner sep=0pt, xshift=1pt},
]
\end{axis}
\end{tikzpicture}
\end{document}
